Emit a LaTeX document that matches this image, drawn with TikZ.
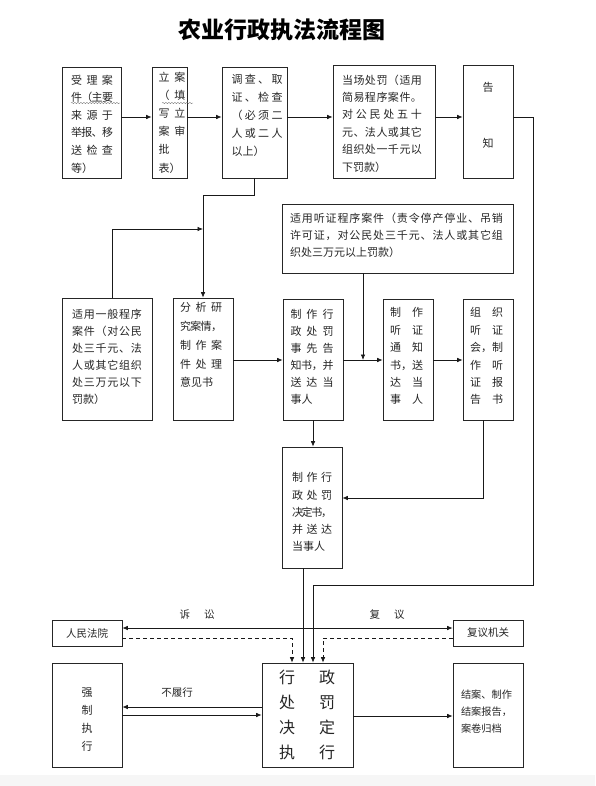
\documentclass[tikz,border=0pt]{standalone}
\usepackage{fontspec}
\newfontfamily\cjk{Noto Sans CJK SC}
\usetikzlibrary{arrows.meta,decorations.pathmorphing}
\setlength\parindent{0pt}
\makeatletter
\newcommand\spreadchars[1]{\let\sp@sep\relax\@tfor\sp@c:=#1\do{\sp@sep\sp@c\let\sp@sep\hss}}
\makeatother
\newcommand\SL[1]{\leavevmode\hbox to\hsize{\spreadchars{#1}}}
\tikzset{
  bx/.style={draw=black!85, line width=0.7pt, inner sep=0pt, anchor=center},
  tx/.style={inner sep=0pt, anchor=north, align=left, text=black!85},
  lead/.style={font=\cjk\fontsize{11}{#1}\selectfont},
  lbl/.style={inner sep=0pt, text=black!85, font=\cjk\fontsize{10.5}{12}\selectfont},
  arr/.style={line width=0.7pt, draw=black!90, -{Latex[length=5.5pt,width=4.5pt]}},
  arrtwo/.style={line width=0.7pt, draw=black!90, {Latex[length=5.5pt,width=4.5pt]}-{Latex[length=5.5pt,width=4.5pt]}},
  wavy/.style={draw=gray, line width=0.4pt, decorate, decoration={snake, amplitude=0.7pt, segment length=3pt}},
}
\begin{document}
\begin{tikzpicture}[x=1pt,y=-1pt]
\useasboundingbox (0,0) rectangle (595,786);
\fill[white] (0,0) rectangle (595,786);
\fill[gray!7] (0,775) rectangle (595,786);

% title
\node[font=\cjk\bfseries\fontsize{23}{23}\selectfont] (title) at (281.5,30) {农业行政执法流程图};

% coordinates
\coordinate (yA) at (0,117);
\coordinate (yJ1) at (0,195);
\coordinate (yJ2) at (0,229);
\coordinate (yM) at (0,360);
\coordinate (xH) at (363,0);
\coordinate (yD) at (0,498);
\coordinate (xD1) at (292,0);
\coordinate (xD2) at (303,0);
\coordinate (xD3) at (313,0);
\coordinate (xD4) at (323,0);
\coordinate (yS) at (0,628);
\coordinate (yDs) at (0,638);
\coordinate (yF1) at (0,707);
\coordinate (yF2) at (0,715);
\coordinate (yC) at (0,716);
\coordinate (rc) at (533,585);

% top row
\node[bx, minimum width=59pt, minimum height=111pt] (b1) at (91.5,122.5) {};
\node[tx, lead=17.6, text width=42pt] (t1) at (92,74.5)
  {\SL{受理案}\\\SL{件（主要}\\\SL{来源于}\\\SL{举报、移}\\\SL{送检查}\\等）};
\draw[wavy] (71,103) -- (120,103);

\node[bx, minimum width=35pt, minimum height=111pt] (b2) at (169.5,122.5) {};
\node[tx, lead=18.2, text width=27pt] (t2) at (172,71.5)
  {\SL{立案}\\\SL{（填}\\\SL{写立}\\\SL{案审}\\批\\表）};
\draw[wavy] (162,103) -- (193,103);

\node[bx, minimum width=65pt, minimum height=111pt] (b3) at (254.5,122.5) {};
\node[tx, lead=18, text width=51pt] (t3) at (257,74.5)
  {\SL{调查、取}\\\SL{证、检查}\\\SL{（必须二}\\\SL{人或二人}\\以上）};

\node[bx, minimum width=102pt, minimum height=113pt] (b4) at (384,121.5) {};
\node[tx, lead=17.4, text width=80pt] (t4) at (382,74.5)
  {\SL{当场处罚（适用}\\\SL{简易程序案件。}\\\SL{对公民处五十}\\\SL{元、法人或其它}\\\SL{组织处一千元以}\\下罚款）};

\node[bx, minimum width=50pt, minimum height=113pt] (b5) at (488,121.5) {};
\node[tx, lead=17.5, align=center] (t5) at (488,82.5) {告\\[38.5pt]知};

% hearing box
\node[bx, minimum width=231pt, minimum height=69pt] (b11) at (397.5,238.5) {};
\node[tx, lead=17, text width=213pt] (t11) at (396.5,212.5)
  {\SL{适用听证程序案件（责令停产停业、吊销}\\\SL{许可证，对公民处三千元、法人或其它组}\\织处三万元以上罚款）};

% middle row
\node[bx, minimum width=90pt, minimum height=122pt] (b6) at (107,359) {};
\node[tx, lead=17, text width=70pt] (t6) at (107,309.5)
  {\SL{适用一般程序}\\\SL{案件（对公民}\\\SL{处三千元、法}\\\SL{人或其它组织}\\\SL{处三万元以下}\\罚款）};

\node[bx, minimum width=60pt, minimum height=122pt] (b7) at (203,359) {};
\node[tx, lead=18.75, text width=42pt] (t7) at (201,302.5)
  {\SL{分析研}\\\SL{究案情，}\\\SL{制作案}\\\SL{件处理}\\意见书};

\node[bx, minimum width=60pt, minimum height=121pt] (b8) at (313,359.5) {};
\node[tx, lead=17, text width=43pt] (t8) at (312,309.5)
  {\SL{制作行}\\\SL{政处罚}\\\SL{事先告}\\\SL{知书，并}\\\SL{送达当}\\事人};

\node[bx, minimum width=50pt, minimum height=121pt] (b9) at (408,359.5) {};
\node[tx, lead=17.4, text width=33pt] (t9) at (406.5,307.5)
  {\SL{制作}\\\SL{听证}\\\SL{通知}\\\SL{书，送}\\\SL{达当}\\\SL{事人}};

\node[bx, minimum width=50pt, minimum height=121pt] (b10) at (488,359.5) {};
\node[tx, lead=17.4, text width=33pt] (t10) at (486.5,307.5)
  {\SL{组织}\\\SL{听证}\\\SL{会，制}\\\SL{作听}\\\SL{证报}\\\SL{告书}};

% decision
\node[bx, minimum width=60pt, minimum height=121pt] (b12) at (312,507.5) {};
\node[tx, lead=17.25, text width=40pt] (t12) at (312,472.5)
  {\SL{制作行}\\\SL{政处罚}\\\SL{决定书，}\\\SL{并送达}\\当事人};

% bottom
\node[bx, minimum width=70pt, minimum height=26pt, font=\cjk\fontsize{10.5}{12}\selectfont, text=black!85] (court) at (87,633) {人民法院};
\node[bx, minimum width=70pt, minimum height=26pt, font=\cjk\fontsize{10.5}{12}\selectfont, text=black!85] (review) at (488,633) {复议机关};

\node[bx, minimum width=91pt, minimum height=104pt] (exec) at (307.5,715) {};
\node[tx, align=center, font=\cjk\fontsize{16}{25}\selectfont] (te) at (307,670)
  {行\hspace{24pt}政\\处\hspace{24pt}罚\\决\hspace{24pt}定\\执\hspace{24pt}行};

\node[bx, minimum width=70pt, minimum height=104pt] (forced) at (87,715) {};
\node[tx, align=center, lead=18] (tf) at (87,687.5) {强\\制\\执\\行};

\node[bx, minimum width=70pt, minimum height=104pt] (close) at (488,715) {};
\node[tx, text width=51pt, font=\cjk\fontsize{10.2}{17}\selectfont] (tc) at (486.5,690)
  {结案、制作\\结案报告，\\案卷归档};

% labels
\node[lbl] (lsu) at (197,615) {诉\hspace{14pt}讼};
\node[lbl] (lfy) at (387,615) {复\hspace{14pt}议};
\node[lbl] (lbl3) at (177,693) {不履行};

% connectors
\draw[arr] (b1.east |- yA) -- (b2.west |- yA);
\draw[arr] (b2.east |- yA) -- (b3.west |- yA);
\draw[arr] (b3.east |- yA) -- (b4.west |- yA);
\draw[arr] (b4.east |- yA) -- (b5.west |- yA);
\draw[arr] (b5.east |- yA) -| (rc) -| (exec.north -| xD3);

\draw[arr] (b3.south) |- (b7.north |- yJ1) -- (b7.north);
\draw[arr] ([xshift=5pt]b6.north) |- (b7.north |- yJ2);

\draw[arr] (b7.east |- yM) -- (b8.west |- yM);
\draw[arr] (b8.east |- yM) -- (b9.west |- yM);
\draw[arr] (b9.east |- yM) -- (b10.west |- yM);
\draw[arr] (b11.south -| xH) -- (xH |- yM);

\draw[arr] (b8.south) -- (b8.south |- b12.north);
\draw[arr] ([xshift=-5pt]b10.south) |- (b12.east |- yD);
\draw[arr] (b12.south -| xD2) -- (exec.north -| xD2);

\draw[arrtwo] (court.east |- yS) -- (review.west |- yS);
\draw[arr, dash pattern=on 4pt off 3pt] (court.east |- yDs) -| (exec.north -| xD1);
\draw[arr, dash pattern=on 4pt off 3pt] (review.west |- yDs) -| (exec.north -| xD4);

\draw[arr] (exec.west |- yF1) -- (forced.east |- yF1);
\draw[arr] (forced.east |- yF2) -- (exec.west |- yF2);
\draw[arr] (exec.east |- yC) -- (close.west |- yC);
\end{tikzpicture}
\end{document}
